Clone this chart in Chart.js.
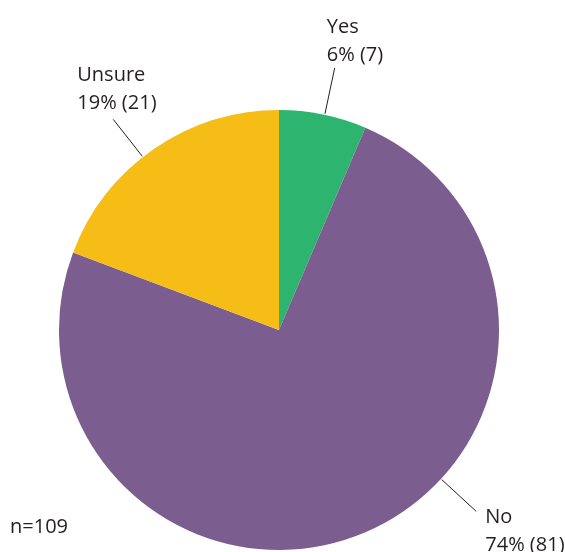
<!DOCTYPE html>
<html>
<head>
<meta charset="utf-8">
<script src="https://cdn.jsdelivr.net/npm/chart.js@4"></script>
<style>
  html, body { margin: 0; padding: 0; background: #fff; }
  #wrap { position: relative; width: 565px; height: 552px; }
</style>
</head>
<body>
<div id="wrap"><canvas id="pieChart" width="565" height="552"></canvas></div>
<script>
const categories = ['Yes', 'No', 'Unsure'];
const counts = [7, 81, 21];
const percentLabels = ['6%', '74%', '19%'];
const sliceColors = ['#2db56f', '#7b5e8f', '#f6bd16'];
const sampleLabel = 'n=109';

// where each leader line leaves the pie (degrees clockwise from 12 o'clock)
// and where the text sits relative to the outer end of the line
const calloutAngles = [12, 132.6, 321.8];
const calloutOffsets = [[-8, -35], [9, 12], [-36, -38]];

const TEXT_COLOR = '#231f20';
const FONT = '20px "Open Sans", sans-serif';

const calloutPlugin = {
    id: 'callouts',
    afterDatasetsDraw(chart) {
        const { ctx } = chart;
        const arcs = chart.getDatasetMeta(0).data;
        ctx.save();
        ctx.strokeStyle = TEXT_COLOR;
        ctx.lineWidth = 1;
        ctx.fillStyle = TEXT_COLOR;
        ctx.font = FONT;
        ctx.textBaseline = 'alphabetic';
        arcs.forEach((arc, i) => {
            const a = calloutAngles[i] * Math.PI / 180;
            const r0 = arc.outerRadius + 1;
            const r1 = arc.outerRadius + 48;
            const x0 = arc.x + r0 * Math.sin(a), y0 = arc.y - r0 * Math.cos(a);
            const x1 = arc.x + r1 * Math.sin(a), y1 = arc.y - r1 * Math.cos(a);
            ctx.beginPath();
            ctx.moveTo(x0, y0);
            ctx.lineTo(x1, y1);
            ctx.stroke();
            const tx = x1 + calloutOffsets[i][0];
            const ty = y1 + calloutOffsets[i][1];
            ctx.fillText(categories[i], tx, ty);
            ctx.fillText(`${percentLabels[i]} (${counts[i]})`, tx, ty + 28);
        });
        // sample size note in the lower left corner
        ctx.fillText(sampleLabel, 10, 533);
        ctx.restore();
    }
};

const ctx = document.getElementById('pieChart').getContext('2d');
new Chart(ctx, {
    type: 'pie',
    data: {
        labels: categories,
        datasets: [{
            data: counts,
            backgroundColor: sliceColors,
            borderWidth: 0
        }]
    },
    options: {
        responsive: false,
        animation: false,
        layout: { padding: { left: 59, right: 66, top: 110, bottom: 2 } },
        plugins: {
            legend: { display: false },
            tooltip: { enabled: false }
        }
    },
    plugins: [calloutPlugin]
});
</script>
</body>
</html>
